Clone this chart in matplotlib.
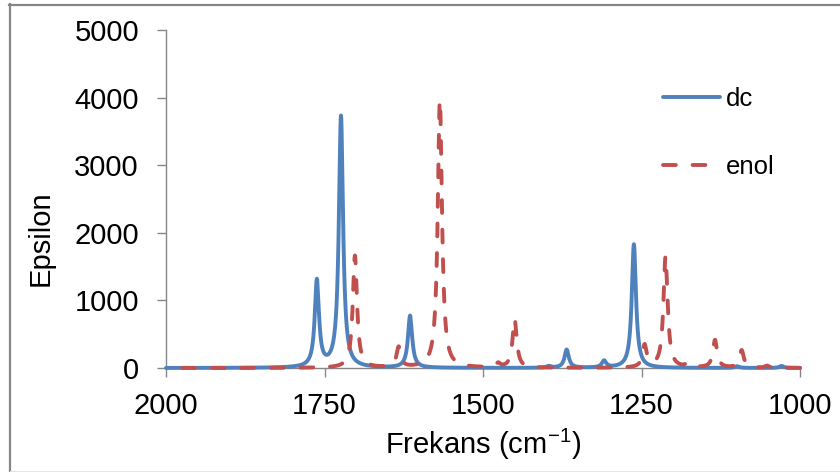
import numpy as np
import matplotlib
matplotlib.use("Agg")
import matplotlib.pyplot as plt
from matplotlib.lines import Line2D

plt.rcParams['font.family'] = ['Liberation Sans', 'DejaVu Sans']
plt.rcParams['mathtext.fontset'] = 'custom'
plt.rcParams['mathtext.rm'] = 'Liberation Sans'
plt.rcParams['mathtext.it'] = 'Liberation Sans:italic'
plt.rcParams['mathtext.bf'] = 'Liberation Sans:bold'

# ---- data (peak centre cm-1, peak height epsilon) ----
series_names = ["dc", "enol"]
dc_centers = [1762, 1724, 1615, 1396, 1368, 1309, 1262, 1099, 1029]
dc_heights = [1280, 3720, 770, 25, 270, 100, 1830, 25, 30]
enol_centers = [1702, 1633, 1568, 1476, 1450, 1245, 1212, 1177, 1134, 1092, 1052]
enol_heights = [1660, 300, 3960, 60, 720, 330, 1650, 60, 410, 260, 30]
hwhm = 4.0  # band half width (cm-1)
x_range = (2000, 1000)
x_ticks = [2000, 1750, 1500, 1250, 1000]
y_ticks = [0, 1000, 2000, 3000, 4000, 5000]

freq = np.arange(1000, 2000.5, 0.5)

def spectrum(centers, heights):
    y = np.zeros_like(freq)
    for c, h in zip(centers, heights):
        y += h * hwhm**2 / (hwhm**2 + (freq - c)**2)
    return y

dc = spectrum(dc_centers, dc_heights)
enol = spectrum(enol_centers, enol_heights)

W, H = 840, 472
fig = plt.figure(figsize=(W/100, H/100), dpi=100)
ax = fig.add_axes([166/W, 1 - 368/H, (800-166)/W, (368-30)/H])

blue = "#4F81BD"
red = "#C0504D"
ax.plot(freq, dc, color=blue, lw=2.8, solid_capstyle='round',
        solid_joinstyle='round', label=series_names[0], clip_on=False, zorder=3)
ax.plot(freq, enol, color=red, lw=2.8, linestyle=(0, (3.3, 4.3)),
        dash_capstyle='round', dash_joinstyle='round', label=series_names[1],
        clip_on=False, zorder=4)

ax.set_xlim(*x_range)
ax.set_ylim(0, 5000)
ax.set_xticks(x_ticks)
ax.set_yticks(y_ticks)

gray = "#868686"
for s in ['top', 'right']:
    ax.spines[s].set_visible(False)
for s in ['left', 'bottom']:
    ax.spines[s].set_color(gray)
    ax.spines[s].set_linewidth(1.0)
ax.tick_params(axis='both', colors=gray, labelcolor='black', labelsize=21,
               length=6.5, width=1.0, direction='out')
ax.tick_params(axis='y', pad=13)
ax.tick_params(axis='x', pad=11)

ax.set_xlabel('Frekans (cm$^{\\mathregular{-1}}$)', fontsize=21)
ax.set_ylabel('Epsilon', fontsize=21)
ax.xaxis.set_label_coords(0.5, -0.175)
ax.yaxis.set_label_coords(-0.175, 0.385)

leg = ax.legend(loc='upper left', bbox_to_anchor=(663/W, 1 - 87/H),
                bbox_transform=fig.transFigure, frameon=False, fontsize=18.5,
                handlelength=2.2, handletextpad=0.25, labelspacing=1.72,
                borderpad=0, borderaxespad=0)

# chart-area frame
fig.add_artist(Line2D([10/W, 10/W], [0, 1 - 4/H], transform=fig.transFigure,
                      color=gray, lw=1.6))
fig.add_artist(Line2D([9/W, 1], [1 - 5/H, 1 - 5/H], transform=fig.transFigure,
                      color=gray, lw=1.6))
fig.add_artist(Line2D([10/W, 1], [1.5/H, 1.5/H], transform=fig.transFigure,
                      color="#e3e3e3", lw=0.8))

fig.savefig("out.png", dpi=100)
